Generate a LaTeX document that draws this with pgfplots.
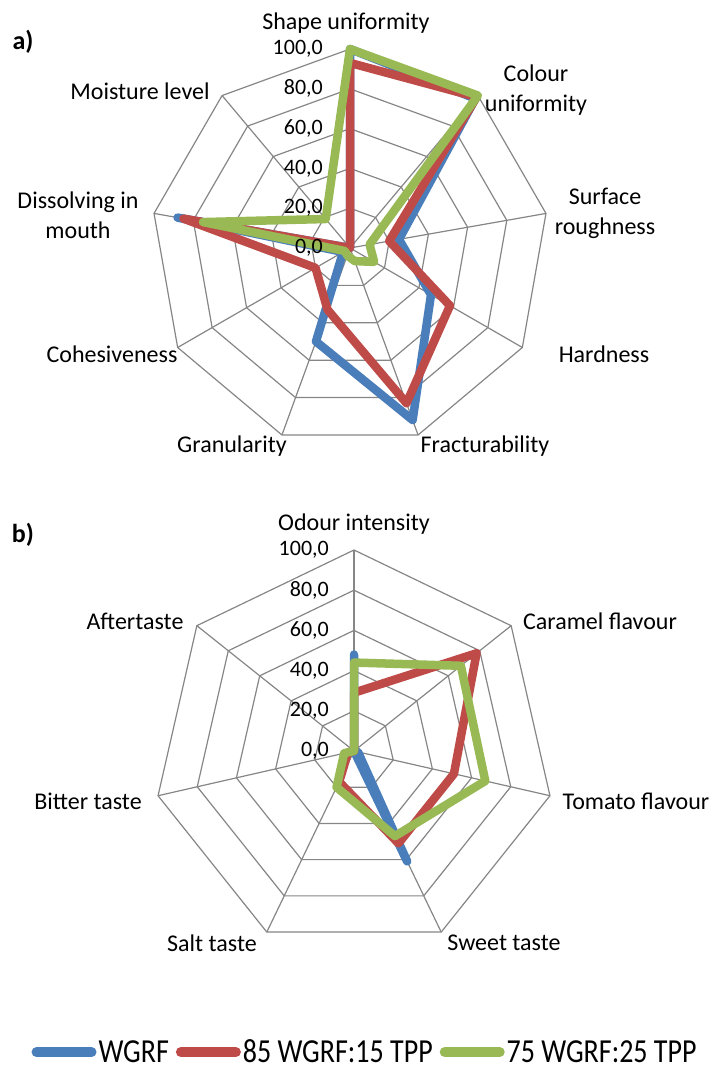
\documentclass[border=0pt]{standalone}
\usepackage{pgfplots}
\pgfplotsset{compat=1.18}
\usepgfplotslibrary{polar}
\usepackage{fontspec}
\setmainfont{Carlito}
\definecolor{wgrf}{HTML}{4A7EBB}
\definecolor{tppa}{HTML}{BE4B48}
\definecolor{tppb}{HTML}{98B954}
\definecolor{gridgray}{HTML}{868686}
\pgfplotsset{
  radar/.style={hide axis, clip=false, anchor=center, xmin=-100, xmax=100, ymin=-100, ymax=100, no markers},
  gridline/.style={draw=gridgray, line width=1.2bp, data cs=polar, forget plot},
  series/.style={line width=8.5bp, line join=round, line cap=round, data cs=polar},
}
\tikzset{
  catlab/.style={font=\fontsize{24bp}{30bp}\selectfont, align=center, inner sep=0pt},
  ticklab/.style={font=\fontsize{22bp}{26bp}\selectfont, anchor=east, inner sep=0pt},
}
\newcommand{\legtxt}[1]{\scalebox{1}[1.2]{#1}}
\begin{document}
\begin{tikzpicture}
\useasboundingbox (0,0) rectangle (717bp,1072bp);
% ---------------- a) ----------------
\begin{axis}[radar, at={(350bp,824bp)}, x=1.99bp, y=1.99bp]
\pgfplotsinvokeforeach{20,40,60,80,100}{
  \addplot[gridline] coordinates {(90,#1) (50,#1) (10,#1) (-30,#1) (-70,#1) (-110,#1) (-150,#1) (170,#1) (130,#1) (90,#1)};
}
\pgfplotsinvokeforeach{90,50,10,-30,-70,-110,-150,170,130}{
  \addplot[gridline] coordinates {(#1,0) (#1,100)};
}
% order: Shape, Colour, Surface, Hardness, Fracturability, Granularity, Cohesiveness, Dissolving, Moisture
\addplot[series, color=wgrf] coordinates {(90,100) (50,98) (10,25) (-30,47) (-70,92) (-110,50) (-150,4) (170,88) (130,0) (90,100)};
\addplot[series, color=tppa] coordinates {(90,93) (50,99) (10,20) (-30,58) (-70,83) (-110,33) (-150,20) (170,85) (130,0) (90,93)};
\addplot[series, color=tppb] coordinates {(90,100) (50,100) (10,10) (-30,14) (-70,7) (-110,4) (-150,3) (170,75) (130,19) (90,100)};
\pgfplotsinvokeforeach{0,20,40,60,80,100}{
  \node[ticklab, xshift=-27bp] at (axis cs:0,#1) {#1,0};
}
\end{axis}
% ---------------- b) ----------------
\begin{axis}[radar, at={(354bp,321bp)}, x=2.01bp, y=2.01bp,
  legend style={at={(0.525,-0.249)}, anchor=center, draw=none, fill=none,
    legend columns=3, font=\fontsize{28bp}{30bp}\selectfont,
    nodes={inner sep=0pt},
    /tikz/every odd column/.append style={column sep=2bp},
    /tikz/every even column/.append style={column sep=7bp}},
  legend image code/.code={\draw[#1, line width=10bp, line cap=round] (0bp,0bp) -- (55bp,0bp);}]
\pgfplotsinvokeforeach{20,40,60,80,100}{
  \addplot[gridline] coordinates {(90,#1) (38.571,#1) (-12.857,#1) (-64.286,#1) (-115.714,#1) (-167.143,#1) (141.429,#1) (90,#1)};
}
\pgfplotsinvokeforeach{90,38.571,-12.857,-64.286,-115.714,-167.143,141.429}{
  \addplot[gridline] coordinates {(#1,0) (#1,100)};
}
% order: Odour, Caramel, Tomato, Sweet, Salt, Bitter, Aftertaste
\addplot[series, color=wgrf] coordinates {(90,48) (38.571,0) (-12.857,2) (-64.286,61) (-115.714,0) (-167.143,0) (141.429,0) (90,48)};
\addlegendentry{\legtxt{WGRF}}
\addplot[series, color=tppa] coordinates {(90,29) (38.571,78) (-12.857,51) (-64.286,51) (-115.714,17) (-167.143,3) (141.429,0) (90,29)};
\addlegendentry{\legtxt{85 WGRF:15 TPP}}
\addplot[series, color=tppb] coordinates {(90,44) (38.571,68) (-12.857,67) (-64.286,47) (-115.714,20) (-167.143,5) (141.429,0) (90,44)};
\addlegendentry{\legtxt{75 WGRF:25 TPP}}
\pgfplotsinvokeforeach{0,20,40,60,80,100}{
  \node[ticklab, xshift=-25bp] at (axis cs:0,#1) {#1,0};
}
\end{axis}
% ---------------- labels ----------------
\node[font=\fontsize{26bp}{30bp}\selectfont\bfseries] at (23bp,1030bp) {a)};
\node[font=\fontsize{26bp}{30bp}\selectfont\bfseries] at (23bp,537bp) {b)};
\node[catlab] at (346bp,1049bp) {Shape uniformity};
\node[catlab] at (536bp,982bp) {Colour\\uniformity};
\node[catlab] at (605bp,859bp) {Surface\\roughness};
\node[catlab] at (604bp,718bp) {Hardness};
\node[catlab] at (485bp,626bp) {Fracturability};
\node[catlab] at (232bp,626bp) {Granularity};
\node[catlab] at (112bp,718bp) {Cohesiveness};
\node[catlab] at (78bp,857bp) {Dissolving in\\mouth};
\node[catlab] at (140bp,981bp) {Moisture level};
\node[catlab] at (354bp,548bp) {Odour intensity};
\node[catlab] at (600bp,451bp) {Caramel flavour};
\node[catlab] at (636bp,271bp) {Tomato flavour};
\node[catlab] at (504bp,129bp) {Sweet taste};
\node[catlab] at (212bp,129bp) {Salt taste};
\node[catlab] at (88bp,271bp) {Bitter taste};
\node[catlab] at (135bp,451bp) {Aftertaste};
\end{tikzpicture}
\end{document}
